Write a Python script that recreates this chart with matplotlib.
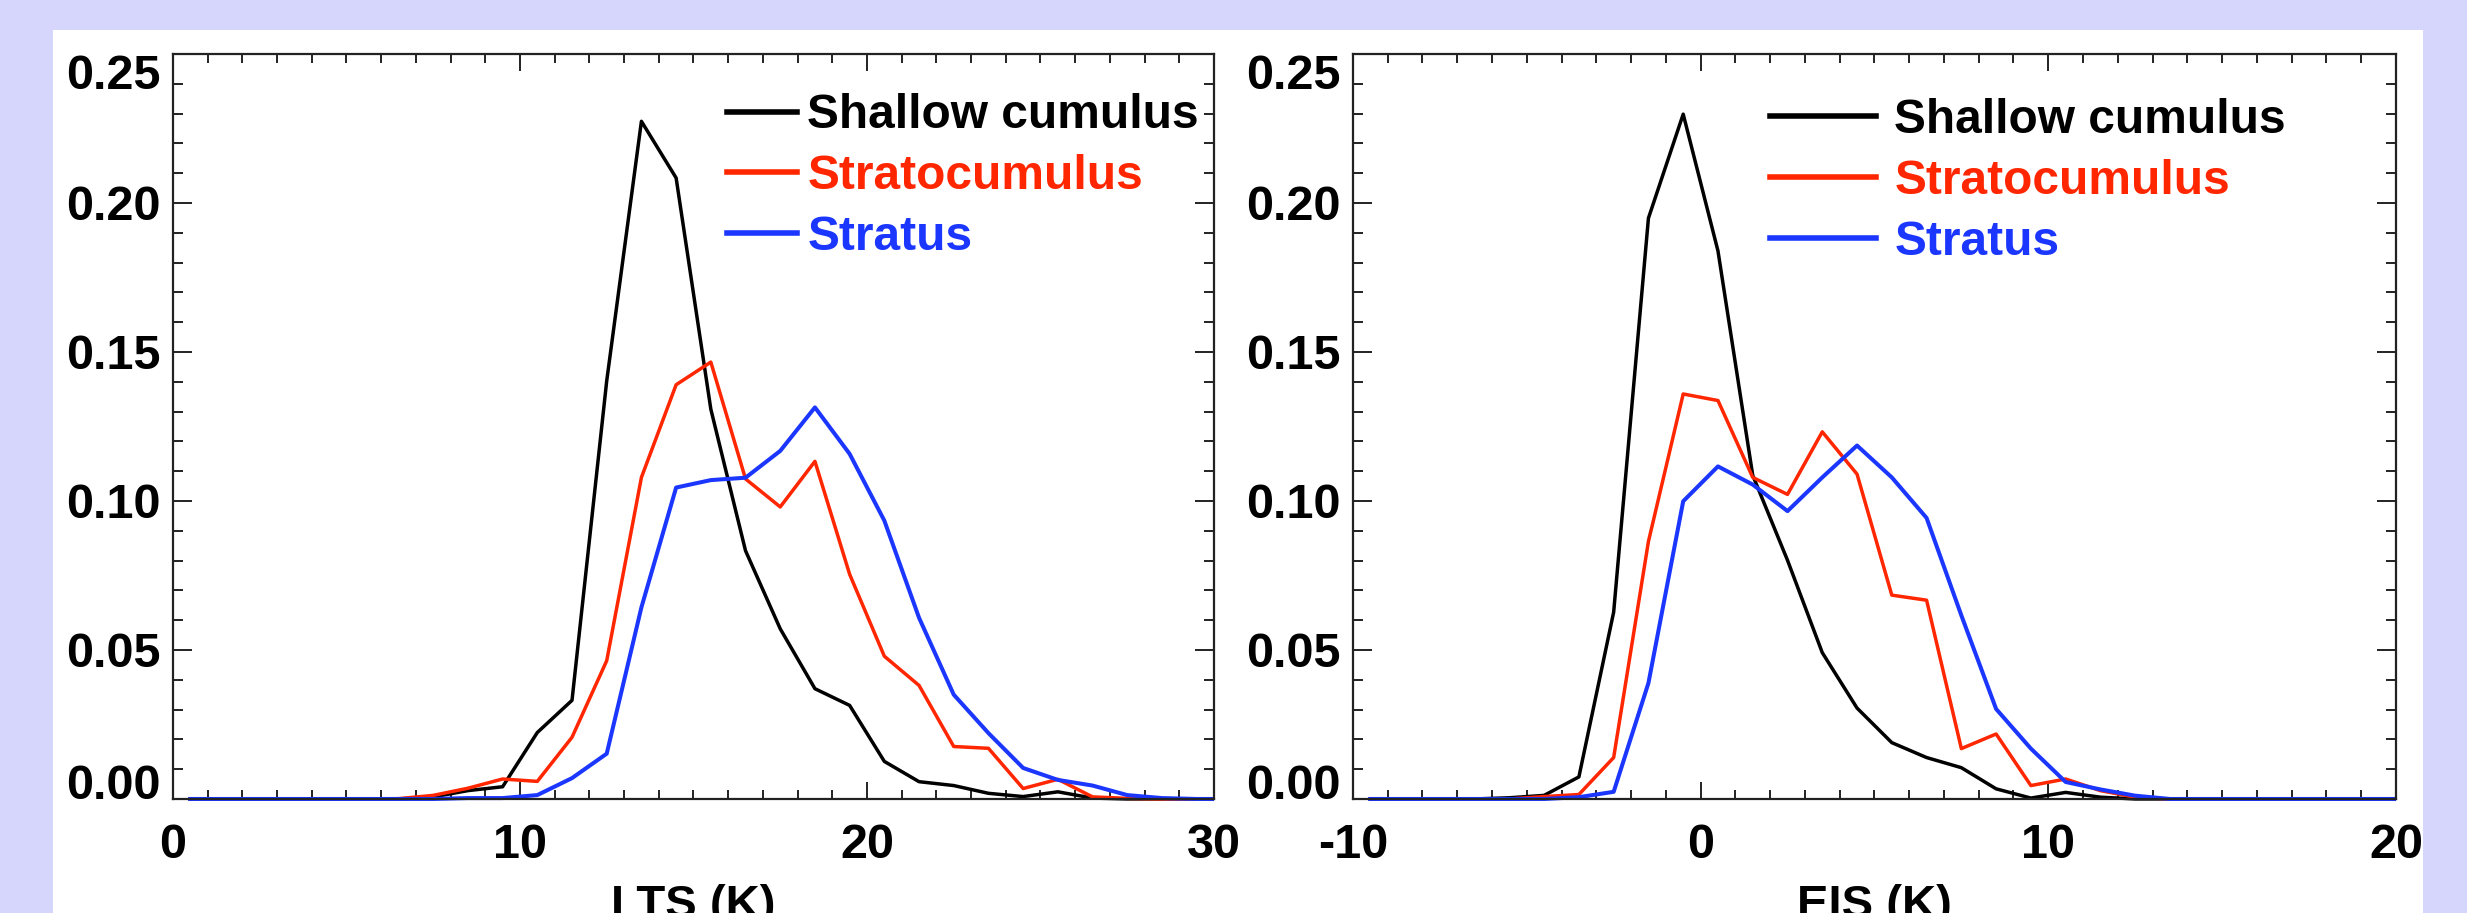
import numpy as np
import matplotlib
matplotlib.use("Agg")
import matplotlib.pyplot as plt
from matplotlib.patches import Rectangle
from matplotlib.transforms import Bbox, TransformedBbox
from matplotlib.ticker import MultipleLocator, FormatStrFormatter

plt.rcParams['font.family'] = ['Liberation Sans', 'DejaVu Sans']
plt.rcParams['font.weight'] = 'bold'
plt.rcParams['axes.unicode_minus'] = False

# bin centres (K)
lts_x = np.arange(0.5, 31, 1.0)
eis_x = np.arange(-9.5, 21, 1.0)

labels = ['Shallow cumulus', 'Stratocumulus', 'Stratus']
colors = ['#000000', '#ff2600', '#1a36ff']
widths = [2.5, 2.5, 2.9]

# LTS frequency distributions
lts_shallow = [0, 0, 0, 0, 0, 0, 0, 0.0007, 0.0028, 0.0041, 0.0223, 0.0331, 0.1403, 0.2274,
               0.2084, 0.1308, 0.0833, 0.0571, 0.0370, 0.0314, 0.0126, 0.0058, 0.0045, 0.0019,
               0.0008, 0.0024, 0.0003, 0, 0, 0, 0]
lts_strcu = [0, 0, 0, 0, 0, 0, 0.0001, 0.0012, 0.0036, 0.0067, 0.0059, 0.0207, 0.0464, 0.1079,
             0.1390, 0.1466, 0.1074, 0.0980, 0.1133, 0.0754, 0.0479, 0.0381, 0.0176, 0.0170,
             0.0035, 0.0066, 0.0007, 0.0002, 0, 0, 0]
lts_stratus = [0, 0, 0, 0, 0, 0, 0, 0, 0.0003, 0.0003, 0.0013, 0.0070, 0.0152, 0.0643,
               0.1045, 0.1070, 0.1078, 0.1168, 0.1314, 0.1158, 0.0934, 0.0608, 0.0350, 0.0221,
               0.0104, 0.0064, 0.0045, 0.0013, 0.0003, 0, 0]

# EIS frequency distributions
eis_shallow = [0, 0, 0, 0, 0.0004, 0.0012, 0.0074, 0.0627, 0.1949, 0.2298, 0.1839, 0.1086,
               0.0801, 0.0491, 0.0305, 0.0189, 0.0139, 0.0105, 0.0034, 0.0003, 0.0022, 0.0006,
               0, 0, 0, 0, 0, 0, 0, 0, 0]
eis_strcu = [0, 0, 0, 0, 0, 0.0008, 0.0015, 0.0139, 0.0864, 0.1359, 0.1337, 0.1079, 0.1022,
             0.1232, 0.1090, 0.0684, 0.0667, 0.0169, 0.0218, 0.0045, 0.0067, 0.0028, 0.0006,
             0, 0, 0, 0, 0, 0, 0, 0]
eis_stratus = [0, 0, 0, 0, 0, 0, 0.0006, 0.0024, 0.0389, 0.0999, 0.1116, 0.1055, 0.0966,
               0.1079, 0.1186, 0.1079, 0.0943, 0.0616, 0.0302, 0.0169, 0.0057, 0.0032, 0.0011,
               0, 0, 0, 0, 0, 0, 0, 0]

fig = plt.figure(figsize=(24.67, 9.13), dpi=100)
fig.patch.set_facecolor('#d6d6fd')
# white card behind both panels
card = Rectangle((53 / 2467, 0), (2423 - 53) / 2467, 1 - 30 / 913,
                 transform=fig.transFigure, facecolor='white', edgecolor='none', zorder=-10)
fig.add_artist(card)

ax1 = fig.add_axes([0.0701, 0.1249, 0.4220, 0.8160])
ax2 = fig.add_axes([0.5484, 0.1249, 0.4228, 0.8160])


def panel(ax, x, series, xlim, xlabel, leg_x, leg_y, hlen, hpad):
    # let the lines lying on zero show over the bottom axis line
    clip = TransformedBbox(Bbox([[0, -0.01], [1, 1]]), ax.transAxes)
    for y, lab, c, w in zip(series, labels, colors, widths):
        ln, = ax.plot(x, y, color=c, lw=w, label=lab)
        ln.set_clip_box(clip)
    ax.set_xlim(*xlim)
    ax.set_ylim(0, 0.25)
    ax.xaxis.set_major_locator(MultipleLocator(10))
    ax.xaxis.set_minor_locator(MultipleLocator(1))
    ax.yaxis.set_major_locator(MultipleLocator(0.05))
    ax.yaxis.set_minor_locator(MultipleLocator(0.01))
    ax.yaxis.set_major_formatter(FormatStrFormatter('%.2f'))
    ax.tick_params(which='both', direction='in', top=True, right=True, width=1.4, color='#222222',
                   labelsize=35)
    ax.tick_params(axis='y', which='major', length=14, pad=9)
    ax.tick_params(axis='y', which='minor', length=7)
    ax.tick_params(axis='x', which='major', length=12, pad=17)
    ax.tick_params(axis='x', which='minor', length=6.5)
    for s in ax.spines.values():
        s.set_linewidth(1.6)
        s.set_color('#222222')
    ax.set_xlabel(xlabel, fontsize=34, fontweight='bold', labelpad=12)
    leg = ax.legend(loc='upper left', bbox_to_anchor=(leg_x, leg_y), frameon=False,
                    fontsize=34.5, handlelength=hlen, handletextpad=hpad, labelspacing=0.33,
                    borderpad=0, borderaxespad=0, labelcolor='linecolor')
    for ln in leg.get_lines():
        ln.set_linewidth(4)


panel(ax1, lts_x, [lts_shallow, lts_strcu, lts_stratus], (0, 30), 'LTS (K)', 0.532, 0.947, 1.47, 0.21)
panel(ax2, eis_x, [eis_shallow, eis_strcu, eis_stratus], (-10, 20), 'EIS (K)', 0.40, 0.941, 2.2, 0.39)

fig.canvas.draw()
# end labels sit inside the axis span, as in the original
for ax in (ax1, ax2):
    for lab in ax.get_yticklabels():
        if lab.get_text() == '0.00':
            lab.set_verticalalignment('baseline')
        elif lab.get_text() == '0.25':
            lab.set_verticalalignment('top')

fig.savefig('out.png', dpi=100, facecolor=fig.get_facecolor())
